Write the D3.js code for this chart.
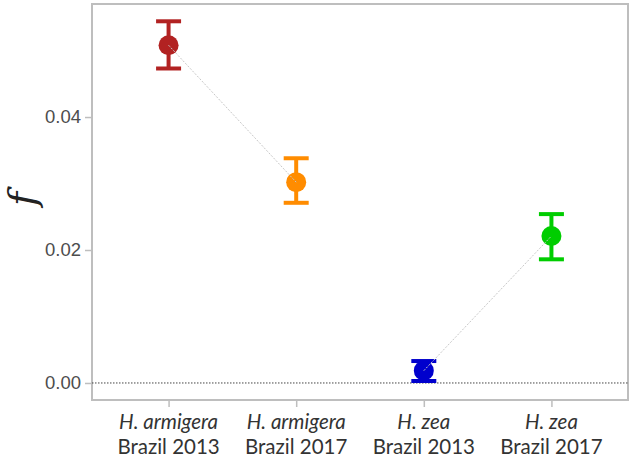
<!DOCTYPE html>
<html><head><meta charset="utf-8">
<script src="https://cdn.jsdelivr.net/npm/d3@7"></script>
<style>body{margin:0;background:#fff}svg{display:block}</style>
</head><body><svg id="c" width="633" height="458"></svg>
<script>
const species = ["H. armigera","H. armigera","H. zea","H. zea"];
const places = ["Brazil 2013","Brazil 2017","Brazil 2013","Brazil 2017"];
const categories = ["ha13","ha17","hz13","hz17"];
const fValues = [0.0508, 0.0302, 0.00185, 0.0221];
const lowerCI = [0.0473, 0.0271, 0.0003, 0.0186];
const upperCI = [0.0544, 0.0338, 0.0033, 0.0254];
const colors = ["#B22222","#FF8C00","#0000CD","#00CD00"];
const yTicks = [0.00, 0.02, 0.04];
const pairs = [[0,1],[2,3]];

const svg = d3.select("#c");
const L = 92, R = 628, T = 4, B = 400;
const x = d3.scalePoint().domain(categories).range([L, R]).padding(0.6);
const y = d3.scaleLinear().domain([-0.00256, 0.0570]).range([B, T]);

svg.append("rect").attr("x",L).attr("y",T).attr("width",R-L).attr("height",B-T)
  .attr("fill","#fff").attr("stroke","#BEBEBE").attr("stroke-width",2);

svg.append("line").attr("x1",L).attr("x2",R).attr("y1",y(0)).attr("y2",y(0))
  .attr("stroke","#444").attr("stroke-width",1).attr("stroke-dasharray","1.5,1.5");

const g = svg.append("g");
categories.forEach((c,i)=>{
  const cx = x(c), w = 12.5;
  const eb = g.append("g").attr("stroke",colors[i]).attr("stroke-width",4);
  eb.append("line").attr("x1",cx).attr("x2",cx).attr("y1",y(lowerCI[i])).attr("y2",y(upperCI[i]));
  eb.append("line").attr("x1",cx-w).attr("x2",cx+w).attr("y1",y(lowerCI[i])).attr("y2",y(lowerCI[i]));
  eb.append("line").attr("x1",cx-w).attr("x2",cx+w).attr("y1",y(upperCI[i])).attr("y2",y(upperCI[i]));
  g.append("circle").attr("cx",cx).attr("cy",y(fValues[i])).attr("r",10).attr("fill",colors[i]);
});
pairs.forEach(([a,b])=>{
  svg.append("line").attr("x1",x(categories[a])).attr("y1",y(fValues[a]))
    .attr("x2",x(categories[b])).attr("y2",y(fValues[b]))
    .attr("stroke","#c8c8c8").attr("stroke-width",1).attr("stroke-dasharray","2,1.5");
});

const ya = svg.append("g").attr("transform",`translate(${L-1},0)`)
  .call(d3.axisLeft(y).tickValues(yTicks).tickFormat(d3.format(".2f")).tickSize(6).tickPadding(4));
ya.select(".domain").remove();
ya.selectAll(".tick line").attr("stroke","#BEBEBE").attr("stroke-width",1.5);
ya.selectAll(".tick text").attr("fill","#4D4D4D").style("font-family","Liberation Sans, Arial, sans-serif").style("font-size","18.5px");

const xa = svg.append("g").attr("transform",`translate(0,${B+1})`)
  .call(d3.axisBottom(x).tickSize(6).tickFormat(""));
xa.select(".domain").remove();
xa.selectAll(".tick line").attr("stroke","#BEBEBE").attr("stroke-width",1.5);
categories.forEach((c,i)=>{
  const t = svg.append("text").attr("x",x(c)).attr("text-anchor","middle")
    .attr("fill","#333").style("font-family","Lato, 'Open Sans', sans-serif").style("font-size","20.5px");
  t.append("tspan").attr("x",x(c)).attr("y",429).style("font-style","italic").text(species[i]);
  t.append("tspan").attr("x",x(c)).attr("y",454).text(places[i]);
});

svg.append("text").attr("transform","translate(35,199) rotate(-90)")
  .attr("text-anchor","middle").style("font-family","'DejaVu Serif', 'Liberation Serif', serif")
  .style("font-style","italic").style("font-size","38px").attr("fill","#222").text("f");
</script></body></html>
